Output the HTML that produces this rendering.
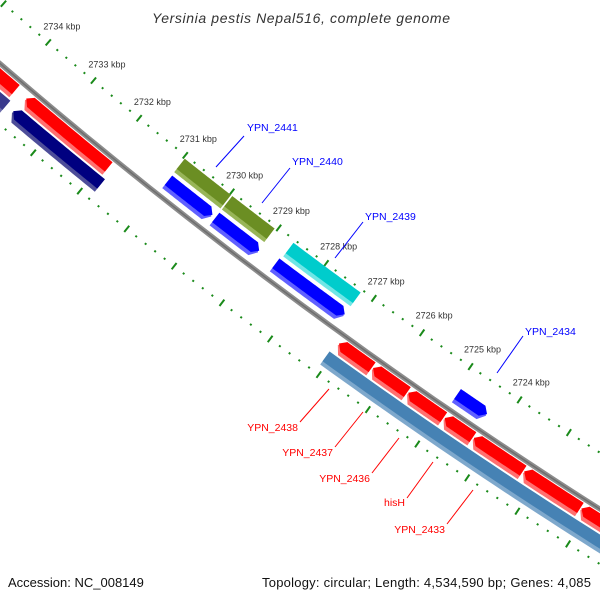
<!DOCTYPE html>
<html><head><meta charset="utf-8"><style>
html,body{margin:0;padding:0;background:#fff;}
svg{display:block;font-family:"Liberation Sans","DejaVu Sans",sans-serif;}
</style></head><body>
<svg id="map" width="600" height="600" viewBox="0 0 600 600" xmlns="http://www.w3.org/2000/svg">
<rect width="600" height="600" fill="#fff"/>
<g id="ticks"></g>
<g id="feats"></g>
<g id="labels"></g>
<text x="152" y="23" textLength="298" lengthAdjust="spacing" font-size="14" font-style="italic" fill="#333">Yersinia pestis Nepal516, complete genome</text>
<text x="8" y="587" font-size="13" fill="#111">Accession: NC_008149</text>
<text x="262" y="587" textLength="329" lengthAdjust="spacing" font-size="13" fill="#111">Topology: circular; Length: 4,534,590 bp; Genes: 4,085</text>
</svg>
<script>
// ---- data ----
const tickLabelsKbp = [2734,2733,2732,2731,2730,2729,2728,2727,2726,2725,2724];
const featStart = [2733.9,2731.88,2726.35,2725.63,2724.89,2724.30,2723.29,2722.15,2720.5, 2733.85,2731.8,2720.5, 2730.02,2729.03,2727.24,2724.32, 2729.98,2729.05,2727.24];
const featEnd   = [2736.0,2733.67,2727.03,2726.33,2725.61,2724.87,2724.28,2723.27,2722.13, 2736.0,2733.7,2727.08, 2730.96,2729.95,2728.68,2724.92, 2730.97,2729.95,2728.65];
const featTrack = [2,2,2,2,2,2,2,2,2, 3,3,3, 1,1,1,1, 0,0,0];
const featColor = ["#ff0000","#ff0000","#ff0000","#ff0000","#ff0000","#ff0000","#ff0000","#ff0000","#ff0000","#3a3a8c","#000080","#4682b4","#0000ff","#0000ff","#0000ff","#0000ff","#6b8e23","#6b8e23","#00cccc"];
const featLight = ["#ff7070","#ff7070","#ff7070","#ff7070","#ff7070","#ff7070","#ff7070","#ff7070","#ff7070","#6a6aaa","#4d4d99","#7ea8cc","#6060ff","#6060ff","#6060ff","#6060ff","#98b558","#98b558","#70e6e6"];
const featArrow = ["high","high","high","high","high","high","high","high","high","none","high","none","low","low","low","low","none","none","none"];
// ---- geometry ----
const CX=3365, CY=-3841;
const trackR = [[5110,5127],[5131,5147],[5158,5174],[5176,5192]];
function ang(k){return (130.5+0.664*(k-2734))*Math.PI/180;}
function pt(k,r){const a=ang(k);return [CX+r*Math.cos(a),CY+r*Math.sin(a)];}
const NS="http://www.w3.org/2000/svg";
function mk(tag,attrs,parent){const e=document.createElementNS(NS,tag);for(const a in attrs)e.setAttribute(a,attrs[a]);parent.appendChild(e);return e;}
function band(k1,k2,r1,r2,tip){
  const h=0.1, mid=(r1+r2)/2;
  const lo= tip==="low"?k1+h:k1, hi= tip==="high"?k2-h:k2;
  const pts=[];const n=30;
  for(let i=0;i<=n;i++)pts.push(pt(lo+(hi-lo)*i/n,r2));
  if(tip==="high")pts.push(pt(k2,mid));
  for(let i=n;i>=0;i--)pts.push(pt(lo+(hi-lo)*i/n,r1));
  if(tip==="low")pts.push(pt(k1,mid));
  return "M"+pts.map(p=>p[0].toFixed(2)+","+p[1].toFixed(2)).join("L")+"Z";
}
const feats=document.getElementById("feats");
(function(){
  const pts=[];for(let i=0;i<=60;i++)pts.push(pt(2736-i*0.27,5154.5));
  const d="M"+pts.map(p=>p[0].toFixed(1)+","+p[1].toFixed(1)).join("L");
  const bb=mk("path",{d:d,fill:"none",stroke:"#8c8c8c","stroke-width":5},feats);
  
  
  const bb2=mk("path",{d:d,fill:"none",stroke:"#6e6e6e","stroke-width":1.5},feats);
  
  
})();
for(let i=0;i<featStart.length;i++){
  const [r1,r2]=trackR[featTrack[i]];
  const g=mk("g",{},feats);
  
  
  mk("path",{d:band(featStart[i],featEnd[i],r1,r2,featArrow[i]),fill:featLight[i]},g);
  mk("path",{d:band(featStart[i],featEnd[i],r1,r2-4,featArrow[i]),fill:featColor[i]},g);
}
const tk=document.getElementById("ticks");
function tickRing(R,name){
  for(let k=27360;k>=27200;k-=2){
    const kv=k/10, major=(k%10===0);
    const a=pt(kv,R-(major?4:1)), b=pt(kv,R+(major?4:1));
    const l=mk("line",{x1:a[0],y1:a[1],x2:b[0],y2:b[1],stroke:"#1a8a1a","stroke-width":2},tk);
    
    
  }
}
tickRing(5107,'outer-tick');
tickRing(5201,'inner-tick');
for(const kb of tickLabelsKbp){
  const p=pt(kb,5086);
  const t=mk("text",{x:p[0],y:p[1]+3,"text-anchor":"middle","font-size":9,fill:"#333"},tk);
  t.textContent=kb+" kbp";
  
  
}
const lb=document.getElementById("labels");
const labelText=["YPN_2441","YPN_2440","YPN_2439","YPN_2434","YPN_2438","YPN_2437","YPN_2436","hisH","YPN_2433"];
const labelCol=["#0000ff","#0000ff","#0000ff","#0000ff","#ff0000","#ff0000","#ff0000","#ff0000","#ff0000"];
const labelPos=[[247,131,"start",244,136,216,167],[292,165,"start",290,168,262,203],[365,220,"start",363,222,335,258],[525,335,"start",523,336,497,373],
[298,431,"end",300,422,329,389],[333,456,"end",335,447,363,412],[370,482,"end",372,473,399,438],[405,506,"end",407,498,433,462],[445,533,"end",447,524,473,490]];
for(let i=0;i<labelText.length;i++){
  const L=labelPos[i];
  const ln=mk("line",{x1:L[3],y1:L[4],x2:L[5],y2:L[6],stroke:labelCol[i],"stroke-width":1},lb);
  
  
  const t=mk("text",{x:L[0],y:L[1],"text-anchor":L[2],"font-size":10.5,fill:labelCol[i]},lb);
  t.textContent=labelText[i];
  
  
}
</script>
</body></html>
